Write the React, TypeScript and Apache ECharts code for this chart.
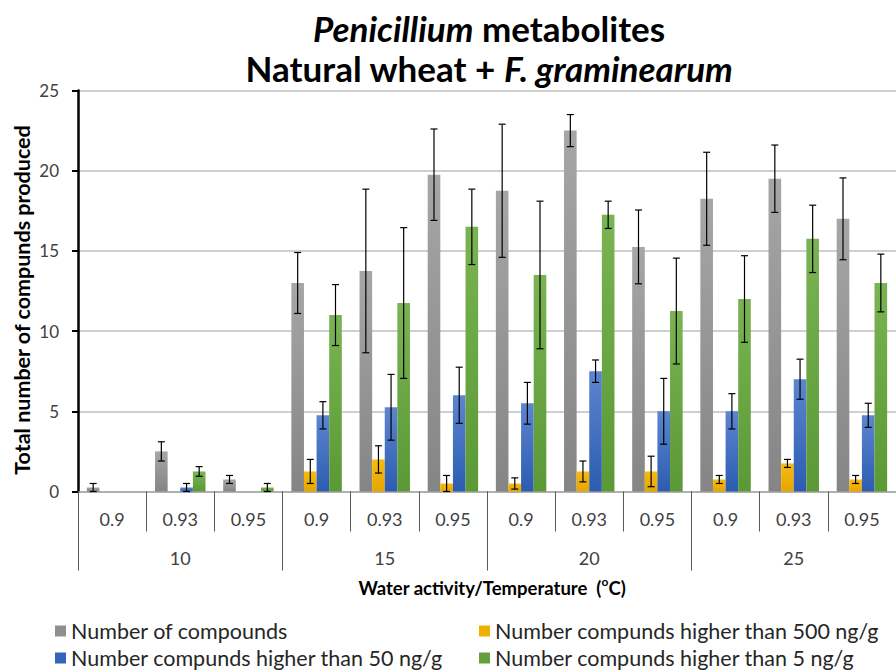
import React, { useEffect, useRef } from "react";
import * as echarts from "echarts";

const categories = ["0.9", "0.93", "0.95", "0.9", "0.93", "0.95", "0.9", "0.93", "0.95", "0.9", "0.93", "0.95"];
const temperatures = ["10", "15", "20", "25"];
const yTicks = [0, 5, 10, 15, 20, 25];

const seriesNames = [
  "Number of compounds",
  "Number compunds higher than 500 ng/g",
  "Number compunds higher than 50 ng/g",
  "Number compunds higher than 5 ng/g",
];

const totalValues = [0.25, 2.5, 0.75, 13, 13.75, 19.75, 18.75, 22.5, 15.25, 18.25, 19.5, 17];
const totalErrors = [0.25, 0.6, 0.25, 1.9, 5.1, 2.85, 4.15, 1, 2.3, 2.9, 2.1, 2.55];
const over500Values = [0, 0, 0, 1.25, 2, 0.5, 0.5, 1.25, 1.25, 0.75, 1.75, 0.75];
const over500Errors = [0, 0, 0, 0.75, 0.85, 0.5, 0.35, 0.65, 0.95, 0.25, 0.25, 0.25];
const over50Values = [0, 0.25, 0, 4.75, 5.25, 6, 5.5, 7.5, 5, 5, 7, 4.75];
const over50Errors = [0, 0.25, 0, 0.85, 2.05, 1.75, 1.3, 0.7, 2.05, 1.1, 1.25, 0.75];
const over5Values = [0, 1.25, 0.25, 11, 11.75, 16.5, 13.5, 17.25, 11.25, 12, 15.75, 13];
const over5Errors = [0, 0.3, 0.25, 1.9, 4.7, 2.35, 4.6, 0.85, 3.3, 2.7, 2.1, 1.8];

const FONT = "Lato";

export default function App() {
  const ref = useRef<HTMLDivElement>(null);

  useEffect(() => {
    if (!ref.current) return;
    const chart = echarts.init(ref.current, null, { renderer: "svg" });

    const values = [totalValues, over500Values, over50Values, over5Values];
    const errors = [totalErrors, over500Errors, over50Errors, over5Errors];
    const gradients = [
      ["#a6a6a6", "#858585"],
      ["#f7bb10", "#e6a500"],
      ["#5d85d0", "#2c5cb0"],
      ["#7ab353", "#5a9935"],
    ];
    const legendColors = ["#8f8f8f", "#f0b000", "#3563b8", "#62a13c"];
    const CAT_GAP = 0.26;
    const N = 4;

    const barSeries = values.map((vals, i) => ({
      name: seriesNames[i],
      type: "bar",
      xAxisIndex: 0,
      yAxisIndex: 0,
      barGap: "0%",
      barCategoryGap: CAT_GAP * 100 + "%",
      data: vals,
      itemStyle: {
        color: new echarts.graphic.LinearGradient(0, 0, 0, 1, [
          { offset: 0, color: gradients[i][0] },
          { offset: 1, color: gradients[i][1] },
        ]),
      },
      emphasis: { disabled: true },
    }));

    const errSeries = values.map((vals, i) => ({
      name: seriesNames[i],
      type: "custom",
      xAxisIndex: 0,
      yAxisIndex: 0,
      silent: true,
      z: 10,
      encode: { x: 0, y: [1, 2] },
      data: vals
        .map((v, k) => [k, Math.max(0, v - errors[i][k]), v + errors[i][k], errors[i][k]])
        .filter((d) => d[3] > 0),
      renderItem: (params: any, api: any) => {
        const k = api.value(0);
        const lo = api.coord([k, api.value(1)]);
        const hi = api.coord([k, api.value(2)]);
        const band = api.size([1, 0])[0];
        const bw = (band * (1 - CAT_GAP)) / N;
        const x = lo[0] - (band * (1 - CAT_GAP)) / 2 + (i + 0.5) * bw;
        const cap = 3.5;
        const st = { stroke: "#000", lineWidth: 1.2 };
        return {
          type: "group",
          children: [
            { type: "line", shape: { x1: x, y1: lo[1], x2: x, y2: hi[1] }, style: st },
            { type: "line", shape: { x1: x - cap, y1: hi[1], x2: x + cap, y2: hi[1] }, style: st },
            { type: "line", shape: { x1: x - cap, y1: lo[1], x2: x + cap, y2: lo[1] }, style: st },
          ],
        };
      },
    }));

    const legendPos = [
      { left: 55, top: 620 },
      { left: 479, top: 620 },
      { left: 55, top: 647 },
      { left: 479, top: 647 },
    ];

    const titleRich = {
      b: { fontFamily: FONT, fontWeight: "bold", fontSize: 35, color: "#000" },
      i: { fontFamily: FONT, fontWeight: "bold", fontStyle: "italic", fontSize: 35, color: "#000" },
    };

    chart.setOption({
      animation: false,
      textStyle: { fontFamily: FONT },
      grid: { left: 78, top: 90.5, width: 828, height: 401, containLabel: false },
      legend: seriesNames.map((n, i) => ({
        data: [{ name: n, itemStyle: { color: legendColors[i] } }],
        left: legendPos[i].left,
        top: legendPos[i].top,
        padding: 0,
        icon: "rect",
        itemWidth: 11,
        itemHeight: 11,
        itemGap: 6,
        selectedMode: false,
        textStyle: { fontFamily: FONT, fontSize: 21.5, color: "#262626" },
      })),
      graphic: [
        {
          type: "text",
          x: 489,
          y: 28,
          style: {
            text: "{i|Penicillium}{b| metabolites}",
            rich: titleRich,
            align: "center",
            verticalAlign: "middle",
          },
        },
        {
          type: "text",
          x: 489,
          y: 68,
          style: {
            text: "{b|Natural wheat + }{i|F. graminearum}",
            rich: titleRich,
            align: "center",
            verticalAlign: "middle",
          },
        },
        {
          type: "text",
          x: 22,
          y: 300,
          rotation: Math.PI / 2,
          style: {
            text: "Total number of compunds produced",
            fontFamily: FONT,
            fontWeight: "bold",
            fontSize: 21.5,
            fill: "#000",
            align: "center",
            verticalAlign: "middle",
          },
        },
        {
          type: "text",
          x: 492,
          y: 586,
          style: {
            text: "{a|Water activity/Temperature  (}{s|o}{a|C)}",
            align: "center",
            verticalAlign: "middle",
            rich: {
              a: { fontFamily: FONT, fontWeight: "bold", fontSize: 18.5, color: "#000", lineHeight: 22, verticalAlign: "bottom" },
              s: { fontFamily: FONT, fontWeight: "bold", fontSize: 12, color: "#000", lineHeight: 22, verticalAlign: "top" },
            },
          },
        },
      ],
      xAxis: [
        {
          type: "category",
          data: categories,
          gridIndex: 0,
          position: "bottom",
          axisLine: { show: true, lineStyle: { color: "#a6a6a6", width: 1.5 } },
          axisTick: { show: true, interval: 0, length: 40, lineStyle: { color: "#595959", width: 1 } },
          axisLabel: { interval: 0, margin: 18, fontSize: 18, color: "#404040", fontFamily: FONT },
          splitLine: { show: false },
        },
        {
          type: "category",
          data: temperatures,
          gridIndex: 0,
          position: "bottom",
          axisLine: { show: false },
          axisTick: { show: true, interval: 0, length: 79, lineStyle: { color: "#595959", width: 1 } },
          axisLabel: { interval: 0, margin: 57, fontSize: 18, color: "#404040", fontFamily: FONT },
          splitLine: { show: false },
        },
      ],
      yAxis: {
        type: "value",
        min: yTicks[0],
        max: yTicks[yTicks.length - 1],
        interval: 5,
        axisLine: { show: true, lineStyle: { color: "#000", width: 2.5 } },
        axisTick: { show: true, length: 6, lineStyle: { color: "#000", width: 2 } },
        axisLabel: { fontSize: 17, color: "#404040", margin: 19, fontFamily: FONT },
        splitLine: { show: true, lineStyle: { color: "#bfbfbf", width: 1.5 } },
      },
      series: [...barSeries, ...errSeries],
    });

    return () => chart.dispose();
  }, []);

  return (
    <div
      ref={ref}
      style={{ position: "absolute", left: 0, top: 0, width: 896, height: 672, background: "#fff" }}
    />
  );
}
